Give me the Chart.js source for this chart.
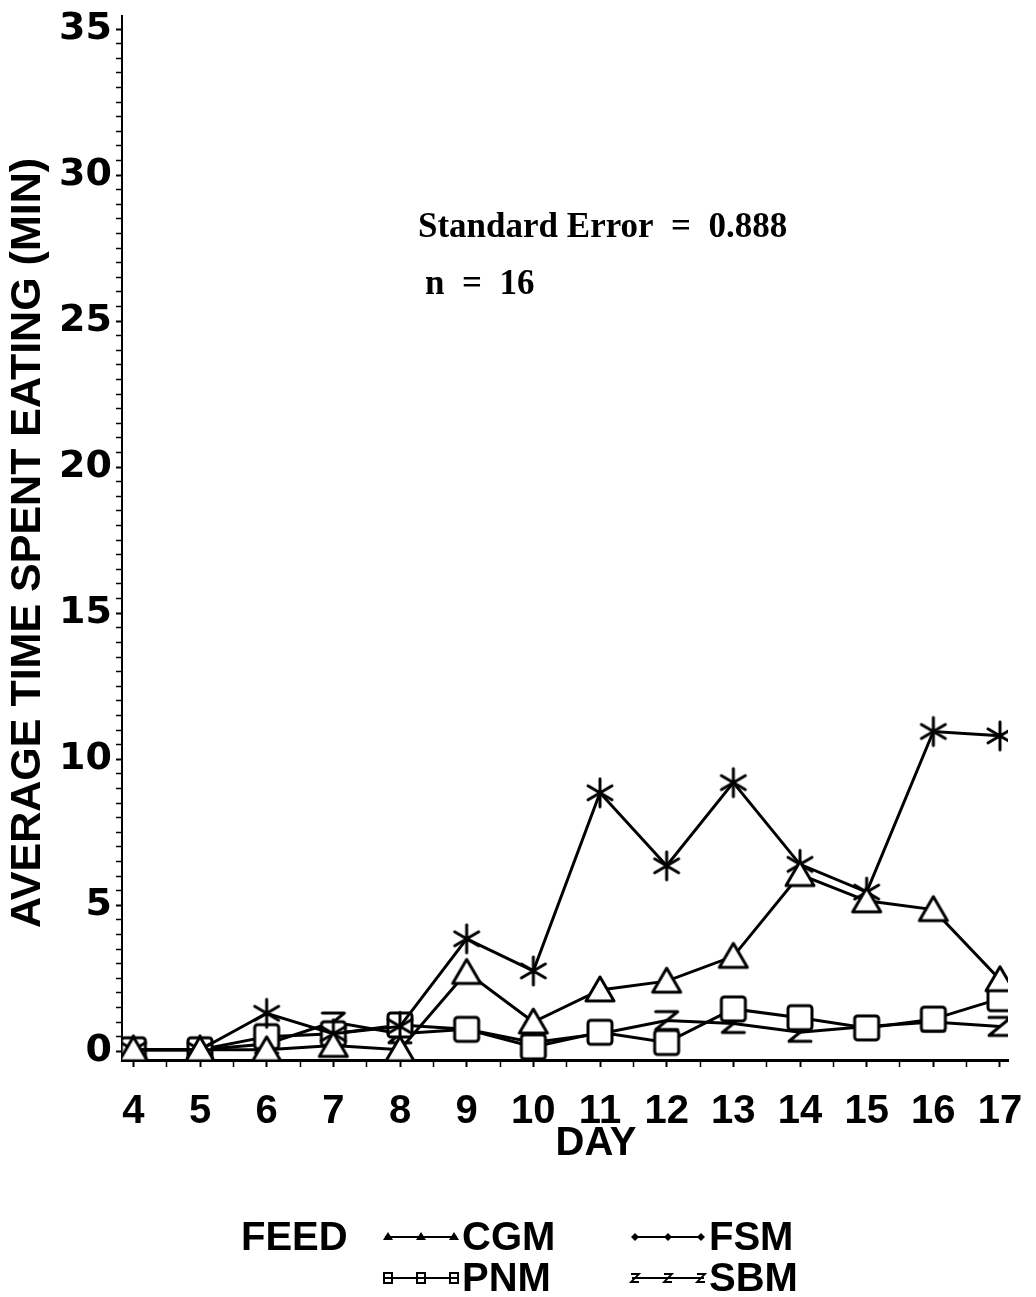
<!DOCTYPE html>
<html>
<head>
<meta charset="utf-8">
<title>Average time spent eating by feed</title>
<script src="https://cdn.jsdelivr.net/npm/chart.js@4.4.1/dist/chart.umd.min.js"></script>
<style>
    html, body { margin: 0; padding: 0; background: #fff; }
    #chartBox { width: 1036px; height: 1297px; }
</style>
</head>
<body>
<div id="chartBox"><canvas id="eatingChart" width="1036" height="1297"></canvas></div>
<script>
// Average time spent eating (min) per day, one series per feed
const days = [4, 5, 6, 7, 8, 9, 10, 11, 12, 13, 14, 15, 16, 17];
const cgmValues = [0.05, 0.05, 0.05, 0.2, 0.05, 2.7, 1.0, 2.1, 2.4, 3.25, 6.05, 5.15, 4.85, 2.45];
const fsmValues = [0.05, 0.05, 1.3, 0.6, 0.85, 3.85, 2.75, 8.85, 6.35, 9.2, 6.4, 5.45, 10.95, 10.8];
const pnmValues = [0.05, 0.05, 0.5, 0.6, 0.9, 0.75, 0.15, 0.65, 0.3, 1.45, 1.15, 0.8, 1.1, 1.8];
const sbmValues = [0.05, 0.05, 0.25, 1.0, 0.6, 0.75, 0.3, 0.6, 1.05, 0.95, 0.65, 0.85, 1.0, 0.85];

const feedNames = ['CGM', 'FSM', 'PNM', 'SBM'];
const yTickLabels = [0, 5, 10, 15, 20, 25, 30, 35];

const statText = 'Standard Error  =  0.888';
const nText = 'n  =  16';

const SANS = "'Liberation Sans', Arial, sans-serif";
const WIDE = "'DejaVu Sans', Verdana, sans-serif";
const SERIF = "'Liberation Serif', 'Times New Roman', serif";

// Plot symbols drawn once onto small canvases and used as pointStyle
function makeMarker(kind) {
    const c = document.createElement('canvas');
    c.width = 34;
    c.height = 34;
    const g = c.getContext('2d');
    g.strokeStyle = '#000';
    g.fillStyle = '#fff';
    g.lineWidth = 3;
    g.lineJoin = 'round';
    g.lineCap = 'round';
    g.beginPath();
    if (kind === 'triangle') {
        g.moveTo(17, 4);
        g.lineTo(3, 28);
        g.lineTo(31, 28);
        g.closePath();
        g.fill();
        g.stroke();
    } else if (kind === 'star') {
        g.moveTo(17, 3); g.lineTo(17, 31);
        g.moveTo(5, 10); g.lineTo(29, 24);
        g.moveTo(29, 10); g.lineTo(5, 24);
        g.stroke();
    } else if (kind === 'square') {
        g.roundRect(5, 5, 24, 24, 3);
        g.fill();
        g.stroke();
    } else if (kind === 'zed') {
        g.moveTo(6, 8); g.lineTo(28, 8);
        g.lineTo(6, 26); g.lineTo(28, 26);
        g.stroke();
    }
    return c;
}

const markers = {
    CGM: makeMarker('triangle'),
    FSM: makeMarker('star'),
    PNM: makeMarker('square'),
    SBM: makeMarker('zed')
};

function toPoints(values) {
    return days.map((d, i) => ({ x: d, y: values[i] }));
}

function lineDataset(name, values) {
    return {
        label: name,
        data: toPoints(values),
        borderColor: '#000',
        borderWidth: 3,
        tension: 0,
        fill: false,
        pointStyle: markers[name],
        pointRadius: 13,
        pointHoverRadius: 13
    };
}

// Tiny legend symbols drawn along each sample line
function legendSymbol(ctx, name, x, y) {
    ctx.save();
    ctx.fillStyle = '#000';
    ctx.strokeStyle = '#000';
    ctx.lineWidth = 2;
    ctx.beginPath();
    if (name === 'CGM') {
        ctx.moveTo(x, y - 5); ctx.lineTo(x - 5, y + 3); ctx.lineTo(x + 5, y + 3);
        ctx.closePath(); ctx.fill();
    } else if (name === 'FSM') {
        ctx.moveTo(x, y - 4); ctx.lineTo(x + 4, y); ctx.lineTo(x, y + 4); ctx.lineTo(x - 4, y);
        ctx.closePath(); ctx.fill();
    } else if (name === 'PNM') {
        ctx.rect(x - 4, y - 5, 8, 10);
        ctx.stroke();
    } else {
        ctx.lineWidth = 1.8;
        ctx.moveTo(x - 4, y - 4); ctx.lineTo(x + 4, y - 4);
        ctx.lineTo(x - 4, y + 4); ctx.lineTo(x + 4, y + 4);
        ctx.stroke();
    }
    ctx.restore();
}

const extrasPlugin = {
    id: 'extras',
    afterDraw(chart) {
        const ctx = chart.ctx;
        ctx.save();
        ctx.fillStyle = '#000';

        // y axis title
        ctx.save();
        ctx.translate(28, 543);
        ctx.rotate(-Math.PI / 2);
        ctx.font = 'bold 43px ' + SANS;
        ctx.textAlign = 'center';
        ctx.textBaseline = 'middle';
        ctx.fillText('AVERAGE TIME SPENT EATING (MIN)', 0, 0);
        ctx.restore();

        // x axis title
        ctx.font = 'bold 40px ' + SANS;
        ctx.textAlign = 'center';
        ctx.textBaseline = 'middle';
        ctx.fillText('DAY', 596, 1144);

        // statistics note
        ctx.font = 'bold 35px ' + SERIF;
        ctx.textAlign = 'left';
        ctx.textBaseline = 'alphabetic';
        ctx.fillText(statText, 418, 237);
        ctx.fillText(nText, 425, 294);

        // legend
        ctx.font = 'bold 40px ' + SANS;
        ctx.textBaseline = 'middle';
        ctx.fillText('FEED', 241, 1239);
        const slots = {
            CGM: { x: 385, y: 1237 },
            FSM: { x: 632, y: 1237 },
            PNM: { x: 385, y: 1278 },
            SBM: { x: 632, y: 1278 }
        };
        feedNames.forEach(name => {
            const s = slots[name];
            const w = 72;
            ctx.strokeStyle = '#000';
            ctx.lineWidth = 2;
            ctx.beginPath();
            ctx.moveTo(s.x, s.y);
            ctx.lineTo(s.x + w, s.y);
            ctx.stroke();
            [0, 0.5, 1].forEach(f => legendSymbol(ctx, name, s.x + 3 + f * (w - 6), s.y));
            ctx.fillText(name, s.x + w + 5, s.y + 2);
        });
        ctx.restore();
    }
};

new Chart(document.getElementById('eatingChart'), {
    type: 'line',
    data: {
        datasets: feedNames.map(name => lineDataset(name, {
            CGM: cgmValues, FSM: fsmValues, PNM: pnmValues, SBM: sbmValues
        }[name]))
    },
    options: {
        responsive: false,
        animation: false,
        layout: {
            padding: { top: 13, right: 28, bottom: 0, left: 0 }
        },
        plugins: {
            legend: { display: false },
            tooltip: { enabled: false }
        },
        scales: {
            x: {
                type: 'linear',
                min: 3.83,
                max: 17.12,
                afterBuildTicks: function (scale) {
                    const t = [];
                    for (let v = 4; v <= 17; v += 0.5) t.push({ value: v });
                    scale.ticks = t;
                },
                afterFit: function (scale) {
                    scale.height = 237;
                    scale.paddingLeft = 0;
                    scale.paddingRight = 0;
                },
                border: { display: true, color: '#000', width: 3 },
                grid: {
                    drawOnChartArea: false,
                    drawTicks: true,
                    tickLength: 7,
                    tickColor: '#000',
                    tickWidth: ctx => Number.isInteger(ctx.tick.value) ? 2 : 1.5
                },
                ticks: {
                    autoSkip: false,
                    maxRotation: 0,
                    padding: 21,
                    color: '#000',
                    font: { size: 40, weight: 'bold', family: SANS },
                    callback: value => Number.isInteger(value) ? String(value) : ''
                }
            },
            y: {
                type: 'linear',
                min: -0.3,
                max: 35.45,
                afterBuildTicks: function (scale) {
                    const t = [];
                    for (let v = 0; v <= 35; v += 0.5) t.push({ value: v });
                    scale.ticks = t;
                },
                afterFit: function (scale) {
                    scale.width = 122;
                    scale.paddingTop = 0;
                    scale.paddingBottom = 0;
                },
                border: { display: true, color: '#000', width: 2 },
                grid: {
                    drawOnChartArea: false,
                    drawTicks: true,
                    tickLength: 6,
                    tickColor: '#000',
                    tickWidth: ctx => yTickLabels.includes(ctx.tick.value) ? 2 : 1.5
                },
                ticks: {
                    autoSkip: false,
                    padding: 4,
                    color: '#000',
                    font: { size: 38, weight: 'bold', family: WIDE },
                    callback: value => yTickLabels.includes(value) ? String(value) : ''
                }
            }
        }
    },
    plugins: [extrasPlugin]
});
</script>
</body>
</html>
